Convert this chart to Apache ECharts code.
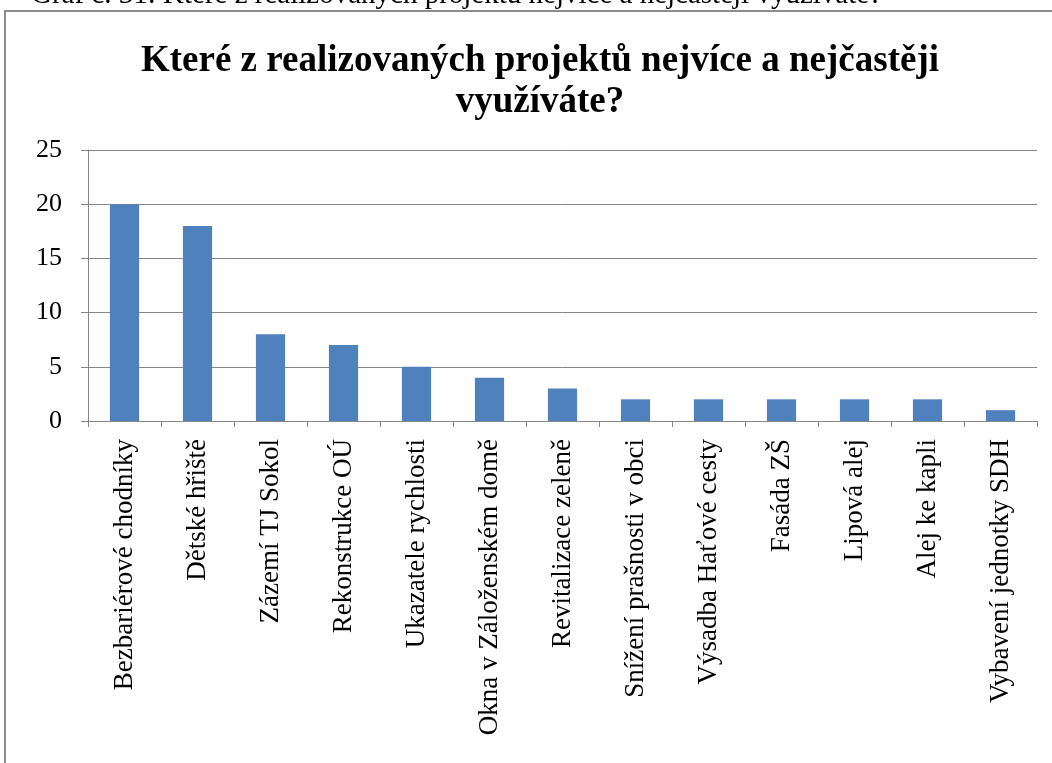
<!DOCTYPE html>
<html>
<head>
    <meta charset="utf-8">
    <title>Projekty</title>
    <script src="https://cdn.jsdelivr.net/npm/echarts@6.0.0/dist/echarts.min.js"></script>
    <style>
        html, body { margin: 0; padding: 0; background: #fff; }
        #chart { width: 1052px; height: 763px; }
    </style>
</head>
<body>
<div id="chart"></div>
<script type="text/javascript">
    // kategorie a hodnoty
    const categories = [
        'Bezbariérové chodníky', 'Dětské hřiště', 'Zázemí TJ Sokol', 'Rekonstrukce OÚ',
        'Ukazatele rychlosti', 'Okna v Záloženském domě', 'Revitalizace zeleně',
        'Snížení prašnosti v obci', 'Výsadba Haťové cesty', 'Fasáda ZŠ', 'Lipová alej',
        'Alej ke kapli', 'Vybavení jednotky SDH'
    ];
    const values = [20, 18, 8, 7, 5, 4, 3, 2, 2, 2, 2, 2, 1];
    const yTicks = [0, 5, 10, 15, 20, 25];

    const chart = echarts.init(document.getElementById('chart'));
    const serif = '"Liberation Serif", "DejaVu Serif", serif';

    const option = {
        backgroundColor: '#fff',
        animation: false,
        title: {
            text: 'Které z realizovaných projektů nejvíce a nejčastěji\nvyužíváte?',
            left: 535,
            top: 36,
            textAlign: 'center',
            textStyle: {
                fontFamily: serif,
                fontSize: 37,
                fontWeight: 'bold',
                color: '#000',
                lineHeight: 41
            }
        },
        graphic: [
            {
                type: 'rect',
                shape: {x: 5, y: 11, width: 1100, height: 800},
                style: {fill: 'none', stroke: '#8c8c8c', lineWidth: 2},
                silent: true
            },
            {
                // popisek grafu nad rámečkem, v originále oříznutý
                type: 'text',
                style: {
                    x: 882,
                    y: -19,
                    align: 'right',
                    verticalAlign: 'top',
                    text: 'Graf č. 31: Které z realizovaných projektů nejvíce a nejčastěji využíváte?',
                    font: '29px ' + serif,
                    fill: '#000'
                },
                silent: true
            }
        ],
        grid: {
            left: 88,
            right: 15,
            top: 150,
            bottom: 342
        },
        xAxis: {
            type: 'category',
            data: categories,
            axisLine: {lineStyle: {color: '#868686', width: 1}},
            axisTick: {show: true, length: 6, lineStyle: {color: '#868686'}},
            axisLabel: {
                rotate: 90,
                interval: 0,
                margin: 18,
                fontFamily: serif,
                fontSize: 27,
                color: '#000'
            }
        },
        yAxis: {
            type: 'value',
            min: yTicks[0],
            max: yTicks[yTicks.length - 1],
            interval: 5,
            axisLine: {show: true, lineStyle: {color: '#868686', width: 1}},
            axisTick: {show: true, length: 7, lineStyle: {color: '#868686'}},
            splitLine: {lineStyle: {color: '#868686', width: 1}},
            axisLabel: {
                margin: 26,
                fontFamily: serif,
                fontSize: 26,
                color: '#000'
            }
        },
        series: [
            {
                type: 'bar',
                data: values,
                barWidth: '40%',
                itemStyle: {color: '#4f81bd'}
            }
        ]
    };
    chart.setOption(option);
</script>
</body>
</html>
